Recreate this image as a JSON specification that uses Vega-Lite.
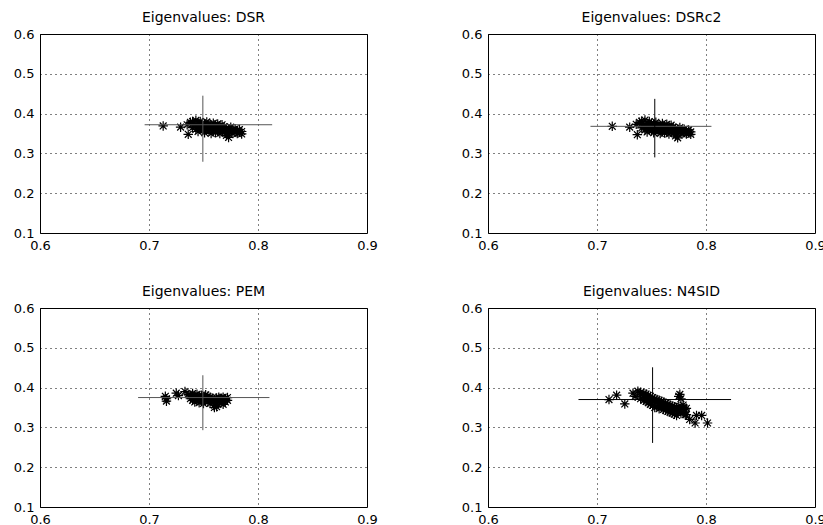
{
  "$schema": "https://vega.github.io/schema/vega-lite/v6.json",
  "background": "white",
  "padding": {"left": 12, "top": 10, "right": 0, "bottom": 0},
  "datasets": {
    "pts": [
      {"panel":"DSR","x":0.713,"y":0.369},{"panel":"DSR","x":0.729,"y":0.366},{"panel":"DSR","x":0.736,"y":0.348},{"panel":"DSR","x":0.735,"y":0.372},{"panel":"DSR","x":0.738,"y":0.378},
      {"panel":"DSR","x":0.740,"y":0.375},{"panel":"DSR","x":0.740,"y":0.365},{"panel":"DSR","x":0.740,"y":0.380},
      {"panel":"DSR","x":0.743,"y":0.370},{"panel":"DSR","x":0.743,"y":0.383},{"panel":"DSR","x":0.743,"y":0.360},
      {"panel":"DSR","x":0.745,"y":0.376},{"panel":"DSR","x":0.745,"y":0.366},{"panel":"DSR","x":0.745,"y":0.355},
      {"panel":"DSR","x":0.747,"y":0.372},{"panel":"DSR","x":0.747,"y":0.380},{"panel":"DSR","x":0.747,"y":0.362},
      {"panel":"DSR","x":0.749,"y":0.368},{"panel":"DSR","x":0.749,"y":0.377},{"panel":"DSR","x":0.749,"y":0.358},
      {"panel":"DSR","x":0.751,"y":0.374},{"panel":"DSR","x":0.751,"y":0.364},{"panel":"DSR","x":0.751,"y":0.352},
      {"panel":"DSR","x":0.753,"y":0.369},{"panel":"DSR","x":0.753,"y":0.379},{"panel":"DSR","x":0.753,"y":0.360},
      {"panel":"DSR","x":0.755,"y":0.366},{"panel":"DSR","x":0.755,"y":0.373},{"panel":"DSR","x":0.755,"y":0.356},
      {"panel":"DSR","x":0.757,"y":0.371},{"panel":"DSR","x":0.757,"y":0.362},{"panel":"DSR","x":0.757,"y":0.350},
      {"panel":"DSR","x":0.759,"y":0.367},{"panel":"DSR","x":0.759,"y":0.376},{"panel":"DSR","x":0.759,"y":0.357},
      {"panel":"DSR","x":0.761,"y":0.363},{"panel":"DSR","x":0.761,"y":0.370},{"panel":"DSR","x":0.761,"y":0.352},
      {"panel":"DSR","x":0.763,"y":0.366},{"panel":"DSR","x":0.763,"y":0.358},{"panel":"DSR","x":0.763,"y":0.374},
      {"panel":"DSR","x":0.765,"y":0.361},{"panel":"DSR","x":0.765,"y":0.369},{"panel":"DSR","x":0.765,"y":0.350},
      {"panel":"DSR","x":0.767,"y":0.364},{"panel":"DSR","x":0.767,"y":0.355},{"panel":"DSR","x":0.767,"y":0.372},
      {"panel":"DSR","x":0.769,"y":0.360},{"panel":"DSR","x":0.769,"y":0.352},{"panel":"DSR","x":0.769,"y":0.367},
      {"panel":"DSR","x":0.771,"y":0.357},{"panel":"DSR","x":0.771,"y":0.364},{"panel":"DSR","x":0.771,"y":0.345},
      {"panel":"DSR","x":0.773,"y":0.362},{"panel":"DSR","x":0.773,"y":0.350},{"panel":"DSR","x":0.773,"y":0.340},
      {"panel":"DSR","x":0.775,"y":0.355},{"panel":"DSR","x":0.775,"y":0.366},
      {"panel":"DSR","x":0.777,"y":0.359},{"panel":"DSR","x":0.777,"y":0.350},
      {"panel":"DSR","x":0.779,"y":0.362},{"panel":"DSR","x":0.779,"y":0.354},
      {"panel":"DSR","x":0.781,"y":0.357},{"panel":"DSR","x":0.781,"y":0.350},
      {"panel":"DSR","x":0.783,"y":0.353},{"panel":"DSR","x":0.783,"y":0.360},
      {"panel":"DSR","x":0.785,"y":0.355},{"panel":"DSR","x":0.785,"y":0.349},

      {"panel":"DSRc2","x":0.714,"y":0.368},{"panel":"DSRc2","x":0.730,"y":0.366},{"panel":"DSRc2","x":0.737,"y":0.347},{"panel":"DSRc2","x":0.736,"y":0.373},{"panel":"DSRc2","x":0.739,"y":0.378},
      {"panel":"DSRc2","x":0.741,"y":0.374},{"panel":"DSRc2","x":0.741,"y":0.364},{"panel":"DSRc2","x":0.741,"y":0.381},
      {"panel":"DSRc2","x":0.744,"y":0.369},{"panel":"DSRc2","x":0.744,"y":0.384},{"panel":"DSRc2","x":0.744,"y":0.359},
      {"panel":"DSRc2","x":0.746,"y":0.375},{"panel":"DSRc2","x":0.746,"y":0.365},{"panel":"DSRc2","x":0.746,"y":0.354},
      {"panel":"DSRc2","x":0.748,"y":0.371},{"panel":"DSRc2","x":0.748,"y":0.380},{"panel":"DSRc2","x":0.748,"y":0.361},
      {"panel":"DSRc2","x":0.750,"y":0.367},{"panel":"DSRc2","x":0.750,"y":0.376},{"panel":"DSRc2","x":0.750,"y":0.357},
      {"panel":"DSRc2","x":0.752,"y":0.373},{"panel":"DSRc2","x":0.752,"y":0.363},{"panel":"DSRc2","x":0.752,"y":0.352},
      {"panel":"DSRc2","x":0.754,"y":0.368},{"panel":"DSRc2","x":0.754,"y":0.378},{"panel":"DSRc2","x":0.754,"y":0.359},
      {"panel":"DSRc2","x":0.756,"y":0.365},{"panel":"DSRc2","x":0.756,"y":0.372},{"panel":"DSRc2","x":0.756,"y":0.355},
      {"panel":"DSRc2","x":0.758,"y":0.370},{"panel":"DSRc2","x":0.758,"y":0.361},{"panel":"DSRc2","x":0.758,"y":0.350},
      {"panel":"DSRc2","x":0.760,"y":0.366},{"panel":"DSRc2","x":0.760,"y":0.375},{"panel":"DSRc2","x":0.760,"y":0.356},
      {"panel":"DSRc2","x":0.762,"y":0.362},{"panel":"DSRc2","x":0.762,"y":0.369},{"panel":"DSRc2","x":0.762,"y":0.351},
      {"panel":"DSRc2","x":0.764,"y":0.365},{"panel":"DSRc2","x":0.764,"y":0.357},{"panel":"DSRc2","x":0.764,"y":0.373},
      {"panel":"DSRc2","x":0.766,"y":0.360},{"panel":"DSRc2","x":0.766,"y":0.368},{"panel":"DSRc2","x":0.766,"y":0.349},
      {"panel":"DSRc2","x":0.768,"y":0.363},{"panel":"DSRc2","x":0.768,"y":0.354},{"panel":"DSRc2","x":0.768,"y":0.371},
      {"panel":"DSRc2","x":0.770,"y":0.359},{"panel":"DSRc2","x":0.770,"y":0.351},{"panel":"DSRc2","x":0.770,"y":0.366},
      {"panel":"DSRc2","x":0.772,"y":0.356},{"panel":"DSRc2","x":0.772,"y":0.363},{"panel":"DSRc2","x":0.772,"y":0.344},
      {"panel":"DSRc2","x":0.774,"y":0.361},{"panel":"DSRc2","x":0.774,"y":0.349},{"panel":"DSRc2","x":0.774,"y":0.339},
      {"panel":"DSRc2","x":0.776,"y":0.354},{"panel":"DSRc2","x":0.776,"y":0.365},
      {"panel":"DSRc2","x":0.778,"y":0.358},{"panel":"DSRc2","x":0.778,"y":0.349},
      {"panel":"DSRc2","x":0.780,"y":0.361},{"panel":"DSRc2","x":0.780,"y":0.353},
      {"panel":"DSRc2","x":0.782,"y":0.356},{"panel":"DSRc2","x":0.782,"y":0.349},
      {"panel":"DSRc2","x":0.784,"y":0.352},{"panel":"DSRc2","x":0.784,"y":0.359},
      {"panel":"DSRc2","x":0.786,"y":0.354},{"panel":"DSRc2","x":0.786,"y":0.348},

      {"panel":"PEM","x":0.715,"y":0.378},{"panel":"PEM","x":0.716,"y":0.366},{"panel":"PEM","x":0.716,"y":0.372},{"panel":"PEM","x":0.725,"y":0.386},{"panel":"PEM","x":0.727,"y":0.380},{"panel":"PEM","x":0.733,"y":0.390},{"panel":"PEM","x":0.736,"y":0.383},
      {"panel":"PEM","x":0.738,"y":0.372},{"panel":"PEM","x":0.738,"y":0.380},
      {"panel":"PEM","x":0.740,"y":0.368},{"panel":"PEM","x":0.740,"y":0.376},{"panel":"PEM","x":0.740,"y":0.385},
      {"panel":"PEM","x":0.742,"y":0.372},{"panel":"PEM","x":0.742,"y":0.364},{"panel":"PEM","x":0.742,"y":0.380},
      {"panel":"PEM","x":0.744,"y":0.375},{"panel":"PEM","x":0.744,"y":0.368},{"panel":"PEM","x":0.744,"y":0.383},
      {"panel":"PEM","x":0.746,"y":0.370},{"panel":"PEM","x":0.746,"y":0.378},{"panel":"PEM","x":0.746,"y":0.362},
      {"panel":"PEM","x":0.748,"y":0.374},{"panel":"PEM","x":0.748,"y":0.366},{"panel":"PEM","x":0.748,"y":0.381},
      {"panel":"PEM","x":0.750,"y":0.371},{"panel":"PEM","x":0.750,"y":0.377},{"panel":"PEM","x":0.750,"y":0.360},
      {"panel":"PEM","x":0.752,"y":0.368},{"panel":"PEM","x":0.752,"y":0.375},{"panel":"PEM","x":0.752,"y":0.382},
      {"panel":"PEM","x":0.754,"y":0.372},{"panel":"PEM","x":0.754,"y":0.364},{"panel":"PEM","x":0.754,"y":0.378},
      {"panel":"PEM","x":0.756,"y":0.369},{"panel":"PEM","x":0.756,"y":0.376},{"panel":"PEM","x":0.756,"y":0.360},
      {"panel":"PEM","x":0.758,"y":0.373},{"panel":"PEM","x":0.758,"y":0.365},
      {"panel":"PEM","x":0.760,"y":0.370},{"panel":"PEM","x":0.760,"y":0.356},{"panel":"PEM","x":0.760,"y":0.350},
      {"panel":"PEM","x":0.762,"y":0.374},{"panel":"PEM","x":0.762,"y":0.362},{"panel":"PEM","x":0.762,"y":0.352},
      {"panel":"PEM","x":0.764,"y":0.368},{"panel":"PEM","x":0.764,"y":0.376},
      {"panel":"PEM","x":0.766,"y":0.372},{"panel":"PEM","x":0.766,"y":0.361},
      {"panel":"PEM","x":0.768,"y":0.369},{"panel":"PEM","x":0.768,"y":0.376},{"panel":"PEM","x":0.768,"y":0.358},
      {"panel":"PEM","x":0.770,"y":0.372},{"panel":"PEM","x":0.770,"y":0.364},
      {"panel":"PEM","x":0.772,"y":0.368},{"panel":"PEM","x":0.772,"y":0.375},

      {"panel":"N4SID","x":0.711,"y":0.370},{"panel":"N4SID","x":0.718,"y":0.381},{"panel":"N4SID","x":0.7255,"y":0.359},{"panel":"N4SID","x":0.733,"y":0.386},{"panel":"N4SID","x":0.7375,"y":0.391},{"panel":"N4SID","x":0.735,"y":0.378},
      {"panel":"N4SID","x":0.740,"y":0.382},{"panel":"N4SID","x":0.740,"y":0.372},{"panel":"N4SID","x":0.740,"y":0.388},
      {"panel":"N4SID","x":0.743,"y":0.379},{"panel":"N4SID","x":0.743,"y":0.368},{"panel":"N4SID","x":0.743,"y":0.386},
      {"panel":"N4SID","x":0.745,"y":0.375},{"panel":"N4SID","x":0.745,"y":0.384},{"panel":"N4SID","x":0.745,"y":0.365},
      {"panel":"N4SID","x":0.747,"y":0.373},{"panel":"N4SID","x":0.747,"y":0.380},{"panel":"N4SID","x":0.747,"y":0.362},
      {"panel":"N4SID","x":0.749,"y":0.370},{"panel":"N4SID","x":0.749,"y":0.378},{"panel":"N4SID","x":0.749,"y":0.358},
      {"panel":"N4SID","x":0.751,"y":0.367},{"panel":"N4SID","x":0.751,"y":0.375},{"panel":"N4SID","x":0.751,"y":0.355},
      {"panel":"N4SID","x":0.753,"y":0.365},{"panel":"N4SID","x":0.753,"y":0.372},{"panel":"N4SID","x":0.753,"y":0.350},
      {"panel":"N4SID","x":0.755,"y":0.362},{"panel":"N4SID","x":0.755,"y":0.370},{"panel":"N4SID","x":0.755,"y":0.352},
      {"panel":"N4SID","x":0.757,"y":0.360},{"panel":"N4SID","x":0.757,"y":0.368},{"panel":"N4SID","x":0.757,"y":0.347},
      {"panel":"N4SID","x":0.759,"y":0.357},{"panel":"N4SID","x":0.759,"y":0.366},{"panel":"N4SID","x":0.759,"y":0.350},
      {"panel":"N4SID","x":0.761,"y":0.355},{"panel":"N4SID","x":0.761,"y":0.363},{"panel":"N4SID","x":0.761,"y":0.345},
      {"panel":"N4SID","x":0.763,"y":0.353},{"panel":"N4SID","x":0.763,"y":0.361},{"panel":"N4SID","x":0.763,"y":0.343},
      {"panel":"N4SID","x":0.765,"y":0.350},{"panel":"N4SID","x":0.765,"y":0.358},{"panel":"N4SID","x":0.765,"y":0.340},
      {"panel":"N4SID","x":0.767,"y":0.348},{"panel":"N4SID","x":0.767,"y":0.356},{"panel":"N4SID","x":0.767,"y":0.338},
      {"panel":"N4SID","x":0.769,"y":0.346},{"panel":"N4SID","x":0.769,"y":0.354},{"panel":"N4SID","x":0.769,"y":0.336},
      {"panel":"N4SID","x":0.771,"y":0.344},{"panel":"N4SID","x":0.771,"y":0.352},{"panel":"N4SID","x":0.771,"y":0.333},
      {"panel":"N4SID","x":0.773,"y":0.342},{"panel":"N4SID","x":0.773,"y":0.350},{"panel":"N4SID","x":0.773,"y":0.330},
      {"panel":"N4SID","x":0.775,"y":0.340},{"panel":"N4SID","x":0.775,"y":0.352},{"panel":"N4SID","x":0.775,"y":0.378},{"panel":"N4SID","x":0.776,"y":0.383},
      {"panel":"N4SID","x":0.777,"y":0.345},{"panel":"N4SID","x":0.777,"y":0.335},{"panel":"N4SID","x":0.777,"y":0.372},
      {"panel":"N4SID","x":0.779,"y":0.350},{"panel":"N4SID","x":0.779,"y":0.338},{"panel":"N4SID","x":0.779,"y":0.356},
      {"panel":"N4SID","x":0.781,"y":0.344},{"panel":"N4SID","x":0.781,"y":0.332},
      {"panel":"N4SID","x":0.782,"y":0.332},{"panel":"N4SID","x":0.782,"y":0.348},
      {"panel":"N4SID","x":0.785,"y":0.320},{"panel":"N4SID","x":0.790,"y":0.311},{"panel":"N4SID","x":0.7913,"y":0.330},{"panel":"N4SID","x":0.796,"y":0.330},{"panel":"N4SID","x":0.8014,"y":0.311}
    ],
    "cross": [
      {"panel":"DSR","cx":0.7494,"cy":0.372,"x1":0.696,"x2":0.813,"y1":0.279,"y2":0.445},
      {"panel":"DSRc2","cx":0.753,"cy":0.368,"x1":0.694,"x2":0.805,"y1":0.290,"y2":0.437},
      {"panel":"PEM","cx":0.7494,"cy":0.375,"x1":0.690,"x2":0.8105,"y1":0.293,"y2":0.431},
      {"panel":"N4SID","cx":0.751,"cy":0.370,"x1":0.683,"x2":0.823,"y1":0.261,"y2":0.451}
    ]
  },
  "columns": 2,
  "spacing": {"row": 75, "column": 121},
  "bounds": "flush",
  "concat": [
    {
      "title": "Eigenvalues: DSR",
      "width": 327, "height": 199,
      "layer": [
        {"data": {"name": "pts"}, "transform": [{"filter": "datum.panel === 'DSR'"}],
         "mark": {"type": "point", "shape": "M-1,0L1,0M0,-1L0,1M-0.72,-0.72L0.72,0.72M-0.72,0.72L0.72,-0.72", "filled": false, "stroke": "black", "strokeWidth": 1.2, "size": 90, "opacity": 1},
         "encoding": {
           "x": {"field": "x", "type": "quantitative", "scale": {"domain": [0.6, 0.9], "nice": false, "zero": false}, "axis": {"values": [0.6, 0.7, 0.8, 0.9], "tickCount": 10, "format": ".1f", "title": null}},
           "y": {"field": "y", "type": "quantitative", "scale": {"domain": [0.1, 0.6], "nice": false, "zero": false}, "axis": {"values": [0.1, 0.2, 0.3, 0.4, 0.5, 0.6], "tickCount": 10, "format": ".1f", "title": null}}
         }},
        {"data": {"name": "cross"}, "transform": [{"filter": "datum.panel === 'DSR'"}],
         "mark": {"type": "rule", "color": "#555555", "strokeWidth": 1},
         "encoding": {"x": {"field": "x1", "type": "quantitative"}, "x2": {"field": "x2"}, "y": {"field": "cy", "type": "quantitative"}}},
        {"data": {"name": "cross"}, "transform": [{"filter": "datum.panel === 'DSR'"}],
         "mark": {"type": "rule", "color": "#555555", "strokeWidth": 1},
         "encoding": {"x": {"field": "cx", "type": "quantitative"}, "y": {"field": "y1", "type": "quantitative"}, "y2": {"field": "y2"}}}
      ]
    },
    {
      "title": "Eigenvalues: DSRc2",
      "width": 327, "height": 199,
      "layer": [
        {"data": {"name": "pts"}, "transform": [{"filter": "datum.panel === 'DSRc2'"}],
         "mark": {"type": "point", "shape": "M-1,0L1,0M0,-1L0,1M-0.72,-0.72L0.72,0.72M-0.72,0.72L0.72,-0.72", "filled": false, "stroke": "black", "strokeWidth": 1.2, "size": 90, "opacity": 1},
         "encoding": {
           "x": {"field": "x", "type": "quantitative", "scale": {"domain": [0.6, 0.9], "nice": false, "zero": false}, "axis": {"values": [0.6, 0.7, 0.8, 0.9], "tickCount": 10, "format": ".1f", "title": null}},
           "y": {"field": "y", "type": "quantitative", "scale": {"domain": [0.1, 0.6], "nice": false, "zero": false}, "axis": {"values": [0.1, 0.2, 0.3, 0.4, 0.5, 0.6], "tickCount": 10, "format": ".1f", "title": null}}
         }},
        {"data": {"name": "cross"}, "transform": [{"filter": "datum.panel === 'DSRc2'"}],
         "mark": {"type": "rule", "color": "#555555", "strokeWidth": 1},
         "encoding": {"x": {"field": "x1", "type": "quantitative"}, "x2": {"field": "x2"}, "y": {"field": "cy", "type": "quantitative"}}},
        {"data": {"name": "cross"}, "transform": [{"filter": "datum.panel === 'DSRc2'"}],
         "mark": {"type": "rule", "color": "black", "strokeWidth": 1},
         "encoding": {"x": {"field": "cx", "type": "quantitative"}, "y": {"field": "y1", "type": "quantitative"}, "y2": {"field": "y2"}}}
      ]
    },
    {
      "title": "Eigenvalues: PEM",
      "width": 327, "height": 199,
      "layer": [
        {"data": {"name": "pts"}, "transform": [{"filter": "datum.panel === 'PEM'"}],
         "mark": {"type": "point", "shape": "M-1,0L1,0M0,-1L0,1M-0.72,-0.72L0.72,0.72M-0.72,0.72L0.72,-0.72", "filled": false, "stroke": "black", "strokeWidth": 1.2, "size": 90, "opacity": 1},
         "encoding": {
           "x": {"field": "x", "type": "quantitative", "scale": {"domain": [0.6, 0.9], "nice": false, "zero": false}, "axis": {"values": [0.6, 0.7, 0.8, 0.9], "tickCount": 10, "format": ".1f", "title": null}},
           "y": {"field": "y", "type": "quantitative", "scale": {"domain": [0.1, 0.6], "nice": false, "zero": false}, "axis": {"values": [0.1, 0.2, 0.3, 0.4, 0.5, 0.6], "tickCount": 10, "format": ".1f", "title": null}}
         }},
        {"data": {"name": "cross"}, "transform": [{"filter": "datum.panel === 'PEM'"}],
         "mark": {"type": "rule", "color": "#555555", "strokeWidth": 1},
         "encoding": {"x": {"field": "x1", "type": "quantitative"}, "x2": {"field": "x2"}, "y": {"field": "cy", "type": "quantitative"}}},
        {"data": {"name": "cross"}, "transform": [{"filter": "datum.panel === 'PEM'"}],
         "mark": {"type": "rule", "color": "#555555", "strokeWidth": 1},
         "encoding": {"x": {"field": "cx", "type": "quantitative"}, "y": {"field": "y1", "type": "quantitative"}, "y2": {"field": "y2"}}}
      ]
    },
    {
      "title": "Eigenvalues: N4SID",
      "width": 327, "height": 199,
      "layer": [
        {"data": {"name": "pts"}, "transform": [{"filter": "datum.panel === 'N4SID'"}],
         "mark": {"type": "point", "shape": "M-1,0L1,0M0,-1L0,1M-0.72,-0.72L0.72,0.72M-0.72,0.72L0.72,-0.72", "filled": false, "stroke": "black", "strokeWidth": 1.2, "size": 90, "opacity": 1},
         "encoding": {
           "x": {"field": "x", "type": "quantitative", "scale": {"domain": [0.6, 0.9], "nice": false, "zero": false}, "axis": {"values": [0.6, 0.7, 0.8, 0.9], "tickCount": 10, "format": ".1f", "title": null}},
           "y": {"field": "y", "type": "quantitative", "scale": {"domain": [0.1, 0.6], "nice": false, "zero": false}, "axis": {"values": [0.1, 0.2, 0.3, 0.4, 0.5, 0.6], "tickCount": 10, "format": ".1f", "title": null}}
         }},
        {"data": {"name": "cross"}, "transform": [{"filter": "datum.panel === 'N4SID'"}],
         "mark": {"type": "rule", "color": "black", "strokeWidth": 1},
         "encoding": {"x": {"field": "x1", "type": "quantitative"}, "x2": {"field": "x2"}, "y": {"field": "cy", "type": "quantitative"}}},
        {"data": {"name": "cross"}, "transform": [{"filter": "datum.panel === 'N4SID'"}],
         "mark": {"type": "rule", "color": "black", "strokeWidth": 1},
         "encoding": {"x": {"field": "cx", "type": "quantitative"}, "y": {"field": "y1", "type": "quantitative"}, "y2": {"field": "y2"}}}
      ]
    }
  ],
  "config": {
    "font": "DejaVu Sans",
    "view": {"stroke": "black", "strokeWidth": 1},
    "title": {"font": "DejaVu Sans", "fontSize": 14, "fontWeight": "normal", "color": "black", "offset": 3, "frame": "group", "baseline": "alphabetic"},
    "axis": {
      "grid": true, "gridColor": "black", "gridDash": [1, 4], "gridOpacity": 1, "gridWidth": 1,
      "domain": false, "ticks": false,
      "labelFont": "DejaVu Sans", "labelFontSize": 13, "labelColor": "black",
      "labelPadding": 6, "labelFlush": false, "labelOverlap": false
    }
  }
}
